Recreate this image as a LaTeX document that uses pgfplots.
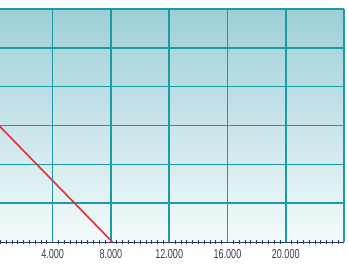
\documentclass[border=0pt]{standalone}
\usepackage{fontspec}
\setmainfont{Liberation Sans}[FakeStretch=0.70]
\usepackage{pgfplots}
\pgfplotsset{compat=1.18}
\definecolor{gridteal}{HTML}{1A9CA4}
\definecolor{bgtop}{HTML}{9ECFD7}
\definecolor{bgbot}{HTML}{F4FAFB}
\definecolor{redline}{HTML}{E0303C}
\definecolor{axisnavy}{HTML}{2A3A6A}
\definecolor{labelc}{HTML}{3A4050}
\begin{document}
\begin{tikzpicture}
\useasboundingbox (0,-26bp) rectangle (348bp,242bp);
\begin{axis}[
  at={(0,0)}, anchor=south west,
  scale only axis,
  width=344bp, height=233bp,
  xmin=384, xmax=24000,
  ymin=0, ymax=6,
  axis x line*=bottom,
  axis y line*=left,
  y axis line style={draw=none},
  yticklabels={},
  scaled x ticks=false,
  axis background/.style={shade, top color=bgtop, bottom color=bgbot},
  xtick={0,4000,8000,12000,16000,20000,24000},
  xticklabels={,4.000,8.000,12.000,16.000,20.000,},
  ytick={1,2,3,4,5,6},
  minor x tick num=9,
  grid=major,
  major grid style={draw=gridteal, line width=1.6bp},
  x axis line style={axisnavy, line width=0.8bp},
  tick align=center,
  major tick length=0pt,
  minor tick length=3bp,
  minor tick style={axisnavy, line width=0.7bp},
  ticklabel style={font=\fontsize{13}{15}\selectfont, text=labelc},
  xticklabel style={yshift=-4bp},
  clip=true,
]
\addplot[redline, line width=1.6bp] coordinates {(0,3.12) (8100,0)};
\end{axis}
\end{tikzpicture}
\end{document}
